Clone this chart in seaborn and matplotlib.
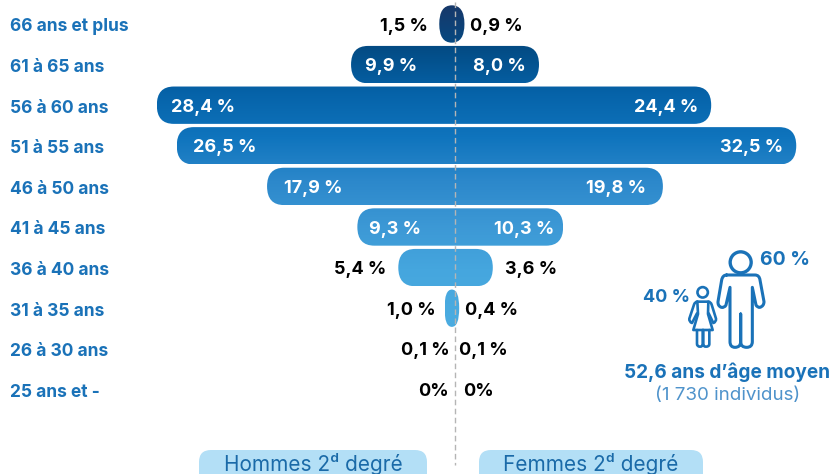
import matplotlib
matplotlib.use("Agg")
import matplotlib.pyplot as plt
from matplotlib.colors import LinearSegmentedColormap
from matplotlib.patches import FancyBboxPatch, Circle, PathPatch
from matplotlib.path import Path
from matplotlib.transforms import offset_copy
import numpy as np
import seaborn as sns

ages = ["66 ans et plus", "61 à 65 ans", "56 à 60 ans", "51 à 55 ans", "46 à 50 ans",
        "41 à 45 ans", "36 à 40 ans", "31 à 35 ans", "26 à 30 ans", "25 ans et -"]
hommes = [1.5, 9.9, 28.4, 26.5, 17.9, 9.3, 5.4, 1.0, 0.1, 0.0]
femmes = [0.9, 8.0, 24.4, 32.5, 19.8, 10.3, 3.6, 0.4, 0.1, 0.0]
hommes_txt = ["1,5 %", "9,9 %", "28,4 %", "26,5 %", "17,9 %", "9,3 %", "5,4 %", "1,0 %", "0,1 %", "0%"]
femmes_txt = ["0,9 %", "8,0 %", "24,4 %", "32,5 %", "19,8 %", "10,3 %", "3,6 %", "0,4 %", "0,1 %", "0%"]
legende = ["Hommes 2ᵈ degré", "Femmes 2ᵈ degré"]

BLUE = "#1a72b8"
FONT = ["Inter", "DejaVu Sans"]
# px layout of the reference
W, H = 836, 474
CX, PX_PER_PCT = 455, 10.5
ROW0, ROW_STEP = 24, 40.6
grad = LinearSegmentedColormap.from_list(
    "grad", ["#17386a", "#034c85", "#0663a9", "#0f74bd", "#2c88cb", "#3c98d5", "#45a6de", "#4aabe0"])

sns.set_theme(style="white")
plt.rcParams["font.family"] = FONT
fig = plt.figure(figsize=(W / 100, H / 100), dpi=100)
ax = fig.add_axes([0, 0, 1, 1])

# bars come from seaborn, then get swapped for rounded gradient shapes
sns.barplot(x=[-v for v in hommes], y=ages, orient="h", width=0.92, color="white", ax=ax)
sns.barplot(x=femmes, y=ages, orient="h", width=0.92, color="white", ax=ax)
n = len(ages)
xlim = (-CX / PX_PER_PCT, (W - CX) / PX_PER_PCT)
ylim = ((H - ROW0) / ROW_STEP, -ROW0 / ROW_STEP)
for p in ax.patches:
    p.set_visible(False)
left_bars, right_bars = ax.patches[:n], ax.patches[n:]
for i, (lb, rb) in enumerate(zip(left_bars, right_bars)):
    x0 = min(lb.get_x(), lb.get_x() + lb.get_width())
    x1 = max(rb.get_x(), rb.get_x() + rb.get_width())
    y0, h = lb.get_y(), lb.get_height()
    if x1 - x0 < 0.5:
        continue
    r = min(17 / PX_PER_PCT, (x1 - x0) / 2)
    # aspect makes the vertical radius half the bar, small bars turn into lenses
    shape = FancyBboxPatch((x0, y0), x1 - x0, h, boxstyle=f"round,pad=0,rounding_size={r}",
                           mutation_aspect=(h / 2) / r, fc="none", ec="none")
    ax.add_patch(shape)
    g = np.linspace(i / 7.6, (i + 0.92) / 7.6, 64).clip(0, 1).reshape(-1, 1)
    im = ax.imshow(g, cmap=grad, vmin=0, vmax=1, extent=(x0, x1, y0 + h, y0), aspect="auto", zorder=2)
    im.set_clip_path(shape)

ax.set_xlim(xlim)
ax.set_ylim(ylim)
ax.axis("off")

# value labels, placed from the bar ends
gaps = [11, 14, 14, 16, 17, 12, 12, 9, 4, 6]
gaps_r = [6, 13, 13, 13, 17, 9, 12, 6, 3, 8]
for i in range(n):
    inside = 1 <= i <= 5
    col = "white" if inside else "black"
    lx, rx = -hommes[i], femmes[i]
    ldx = gaps[i] if inside else -gaps[i]
    rdx = -gaps_r[i] if inside else gaps_r[i]
    ax.text(lx, i + 0.05, hommes_txt[i], color=col, fontsize=13, fontweight="bold", va="center",
            ha="left" if inside else "right", zorder=4,
            transform=offset_copy(ax.transData, fig=fig, x=ldx, y=0, units="dots"))
    ax.text(rx, i + 0.05, femmes_txt[i], color=col, fontsize=13, fontweight="bold", va="center",
            ha="right" if inside else "left", zorder=4,
            transform=offset_copy(ax.transData, fig=fig, x=rdx, y=0, units="dots"))
    ax.text(xlim[0] + 10 / PX_PER_PCT, i + 0.07, ages[i], color=BLUE, fontsize=12.5, fontweight="bold",
            va="center", ha="left")

ax.plot([0, 0], [-0.55, (465 - ROW0) / ROW_STEP], color="#b5b5b5", lw=1, ls=(0, (4, 2.5)), zorder=3)

# overlay in px: legend pills, icons, side text
ov = fig.add_axes([0, 0, 1, 1], facecolor="none")
ov.set_xlim(0, W)
ov.set_ylim(H, 0)
ov.axis("off")

for (x0, x1), lab in zip([(199, 427), (479, 703)], legende):
    ov.add_patch(FancyBboxPatch((x0, 450), x1 - x0, 40, boxstyle="round,pad=0,rounding_size=12",
                                fc="#b3dff6", ec="none", clip_on=True))
    ov.text((x0 + x1) / 2, 464, lab, color="#1a6aa8", fontsize=15, ha="center", va="center")


def icon(d, ox=620, oy=230, s=3.0, lw=2.2):
    # tiny M/L/Q path reader, coords from a 3x crop of the reference
    toks = d.split()
    verts, codes = [], []
    k = 0
    while k < len(toks):
        c = toks[k]
        k += 1
        npts = 2 if c == "Q" else 1
        for j in range(npts):
            verts.append((ox + float(toks[k]) / s, oy + float(toks[k + 1]) / s))
            k += 2
            codes.append({"M": Path.MOVETO, "L": Path.LINETO, "Q": Path.CURVE3}[c])
    ov.add_patch(PathPatch(Path(verts, codes), fc="none", ec=BLUE, lw=lw, capstyle="round", joinstyle="round"))


# adult
ov.add_patch(Circle((620 + 362 / 3, 230 + 97 / 3), 10.5, fc="none", ec=BLUE, lw=2.4))
icon("M 320 135 L 405 135 Q 418 135 420 150 L 432 215 Q 432 228 420 232 Q 412 233 408 225 L 397 172 "
     "L 397 335 Q 397 352 380 352 Q 362 352 362 335 L 362 252 L 362 335 Q 362 352 345 352 "
     "Q 330 352 330 335 L 330 172 L 318 225 Q 314 234 304 232 Q 293 228 294 215 L 305 150 Q 308 135 320 135")
# child
ov.add_patch(Circle((620 + 248 / 3, 230 + 187 / 3), 5.2, fc="none", ec=BLUE, lw=1.9))
icon("M 232 215 L 265 215 Q 272 215 275 224 L 288 266 Q 289 276 280 279 L 266 250", lw=1.9)
icon("M 232 215 Q 225 215 222 224 L 208 266 Q 207 276 216 279 L 231 250", lw=1.9)
icon("M 265 215 L 264 252 L 278 300 L 220 300 L 234 252 L 232 215", lw=1.9)
icon("M 231 300 L 231 342 Q 231 350 240 350 Q 249 350 249 342 L 249 300 L 249 342 "
     "Q 249 350 258 350 Q 268 350 268 342 L 268 300", lw=1.9)

ov.text(760, 260, "60 %", color=BLUE, fontsize=14, fontweight="bold", ha="left", va="center")
ov.text(690, 298, "40 %", color=BLUE, fontsize=13, fontweight="bold", ha="right", va="center")
ov.text(727.5, 372, "52,6 ans d’âge moyen", color=BLUE, fontsize=13.7, fontweight="bold", ha="center", va="center")
ov.text(727.5, 396, "(1 730 individus)", color="#4f93cb", fontsize=13.5, ha="center", va="center")

fig.savefig("out.png", dpi=100)
